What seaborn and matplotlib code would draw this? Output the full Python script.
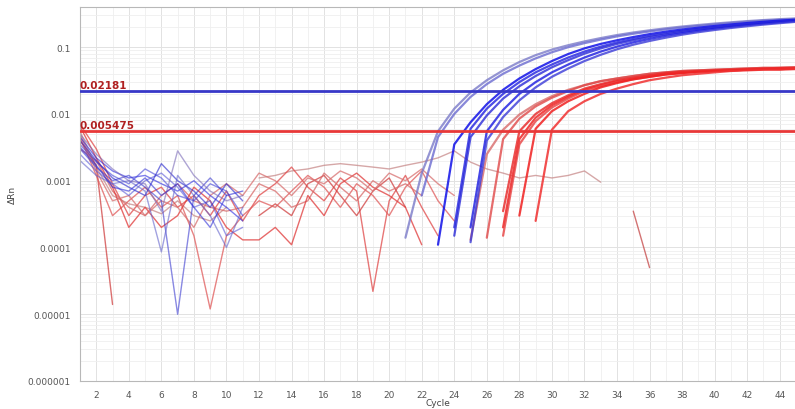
import numpy as np
import pandas as pd
import matplotlib
matplotlib.use("Agg")
import matplotlib.pyplot as plt
import seaborn as sns
from matplotlib.ticker import FixedLocator, FixedFormatter, NullFormatter

nan = float("nan")

# ---------------- data ----------------
x_ticks = list(range(2, 45, 2))
y_ticks = [1e-6, 1e-5, 1e-4, 1e-3, 1e-2, 1e-1]
y_tick_labels = ["0.000001", "0.00001", "0.0001", "0.001", "0.01", "0.1"]

threshold_blue = 0.02181
threshold_red = 0.005475
threshold_blue_label = "0.02181"
threshold_red_label = "0.005475"

# blue baseline noise, cycles 1..11
blue_noise_1 = [0.0045, 0.0022, 0.0014, 0.0011, 0.0012, 0.0009, 0.0007, 0.0010, 0.0006, 0.0004, 0.00025]
blue_noise_2 = [0.0035, 0.0019, 0.0012, 0.0009, 0.0015, 0.0011, 0.0006, 0.0005, 0.0009, 0.0007, 0.0003]
blue_noise_3 = [0.0030, 0.0016, 0.0010, 0.0012, 0.0008, 0.0005, 0.00001, 0.0006, 0.0011, 0.0006, nan]
blue_noise_4 = [0.0025, 0.0014, 0.0009, 0.0006, 0.0010, 0.0013, 0.0008, 0.0004, 0.0005, 0.00015, 0.0002]
blue_noise_5 = [0.0040, 0.0020, 0.0011, 0.0008, 0.0006, 0.0018, 0.0010, 0.0007, 0.0004, 0.0009, 0.0005]
blue_noise_6 = [0.0020, 0.0012, 0.0009, 0.0010, 0.0007, 0.000086, 0.0012, 0.0006, 0.0003, 0.0001, 0.0004]
blue_noise_7 = [0.0050, 0.0025, 0.0015, 0.0010, 0.0009, 0.00035, 0.0028, 0.0012, 0.0007, 0.0005, 0.0006]
blue_noise_8 = [0.0032, 0.0017, 0.0008, 0.0007, 0.0011, 0.0006, 0.0009, 0.0004, 0.0002, 0.0006, 0.0007]

# blue amplification curves: (first cycle, values up to cycle 45)
blue_amp_1_start = 21
blue_amp_1 = [0.00014, 0.0013, 0.0055, 0.012, 0.021, 0.032, 0.045, 0.060, 0.076, 0.092, 0.107, 0.122, 0.137,
              0.152, 0.166, 0.179, 0.192, 0.204, 0.215, 0.226, 0.236, 0.246, 0.255, 0.263, 0.270]
blue_amp_2_start = 22
blue_amp_2 = [0.0006, 0.0045, 0.010, 0.018, 0.028, 0.040, 0.053, 0.068, 0.084, 0.100, 0.115, 0.130,
              0.145, 0.159, 0.172, 0.185, 0.197, 0.208, 0.219, 0.230, 0.240, 0.249, 0.257, 0.265]
blue_amp_3_start = 23
blue_amp_3 = [0.00011, 0.0035, 0.0075, 0.014, 0.023, 0.034, 0.047, 0.062, 0.079, 0.096, 0.112, 0.127,
              0.142, 0.157, 0.171, 0.184, 0.196, 0.208, 0.219, 0.230, 0.240, 0.250, 0.258]
blue_amp_4_start = 24
blue_amp_4 = [0.0002, 0.006, 0.012, 0.020, 0.030, 0.042, 0.055, 0.070, 0.086, 0.102, 0.118, 0.133,
              0.148, 0.162, 0.176, 0.189, 0.201, 0.213, 0.224, 0.235, 0.245, 0.254]
blue_amp_5_start = 24
blue_amp_5 = [0.00015, 0.0045, 0.0095, 0.017, 0.026, 0.037, 0.050, 0.064, 0.080, 0.096, 0.112, 0.127,
              0.142, 0.156, 0.170, 0.183, 0.196, 0.208, 0.219, 0.230, 0.240, 0.250]
blue_amp_6_start = 25
blue_amp_6 = [0.0002, 0.0055, 0.0115, 0.020, 0.030, 0.042, 0.055, 0.070, 0.086, 0.102, 0.118, 0.133,
              0.148, 0.162, 0.176, 0.189, 0.202, 0.214, 0.225, 0.236, 0.246]
blue_amp_7_start = 25
blue_amp_7 = [0.00012, 0.004, 0.009, 0.016, 0.025, 0.036, 0.048, 0.062, 0.077, 0.093, 0.109, 0.124,
              0.139, 0.154, 0.168, 0.181, 0.194, 0.206, 0.218, 0.229, 0.240]

# red baseline noise, cycles 1..n
red_noise_1 = [0.0055, 0.0016, 0.0006, 0.00045, 0.0004, 0.00032, 0.0005, 0.0003, 0.00025, 0.0004, nan,
               0.0011, 0.0012, 0.0014, 0.0015, 0.0017, 0.0018, 0.0017, 0.0016, 0.0015, 0.0017, 0.0019,
               0.0022, 0.0028, 0.0019, 0.0015, 0.0013, 0.0011, 0.0012, 0.0011, 0.0012, 0.0014, 0.00095]
red_noise_2 = [0.007, 0.003, 0.0009, 0.0003, 0.0006, 0.0008, 0.0004, 0.0006, 0.0003, 0.0007, 0.00025,
               0.0006, 0.0009, 0.0016, 0.0008, 0.0005, 0.0011, 0.0007, 0.000022, 0.0005, 0.0012, 0.0004,
               0.00015]
red_noise_3 = [0.004, 0.0017, 0.000014, nan, nan, nan, nan, nan, nan, nan, nan,
               0.0003, 0.00045, 0.0003, 0.0009, 0.0012, 0.0006, 0.0003, 0.0007, 0.0011, 0.0004]
red_noise_4 = [0.0045, 0.0012, 0.0003, 0.0005, 0.0008, 0.0004, 0.0006, 0.00015, 0.000012, 0.00015, 0.0003,
               0.0005, 0.0004, 0.0007, 0.0012, 0.0008, 0.0004, 0.0009, 0.0006, 0.0003, 0.0008, 0.0014,
               0.0005, 0.00025]
red_noise_5 = [0.003, 0.002, 0.0007, 0.0004, 0.0003, 0.0006, 0.0009, 0.0005, 0.0004, 0.00035, 0.0004,
               0.0009, 0.0007, 0.0004, 0.0005, 0.0013, 0.0008, 0.0005, 0.0010, 0.0007, 0.0009, 0.0006]
red_noise_6 = [0.0065, 0.0022, 0.0008, 0.0002, 0.0004, 0.0002, 0.0003, 0.0008, 0.0005, 0.0002, 0.00013,
               0.00013, 0.0002, 0.00011, 0.0006, 0.0003, 0.0009, 0.0013, 0.0008, 0.0006, 0.0004, 0.00011]
red_noise_7 = [0.005, 0.0014, 0.0005, 0.0006, 0.0003, 0.0005, 0.0004, 0.0002, 0.0006, 0.0009, 0.0006,
               0.0013, 0.0010, 0.0006, 0.0011, 0.0009, 0.0014, 0.0011, 0.0007, 0.0013, 0.0010, 0.0015,
               0.0009, 0.0006]
red_noise_8_start = 35
red_noise_8 = [0.00035, 0.00005]

# red amplification curves
red_amp_1_start = 25
red_amp_1 = [0.00013, 0.0025, 0.0058, 0.0098, 0.014, 0.0185, 0.023, 0.027, 0.031, 0.034, 0.037, 0.040, 0.042,
             0.044, 0.045, 0.046, 0.047, 0.048, 0.049, 0.049, 0.050]
red_amp_2_start = 26
red_amp_2 = [0.00014, 0.0042, 0.0085, 0.013, 0.0175, 0.022, 0.027, 0.031, 0.034, 0.037, 0.040, 0.042,
             0.044, 0.045, 0.046, 0.047, 0.048, 0.049, 0.049, 0.050]
red_amp_3_start = 27
red_amp_3 = [0.00035, 0.0055, 0.0100, 0.0145, 0.019, 0.024, 0.028, 0.032, 0.035, 0.038, 0.041, 0.043,
             0.044, 0.045, 0.046, 0.047, 0.048, 0.049, 0.049]
red_amp_4_start = 27
red_amp_4 = [0.0002, 0.0042, 0.0088, 0.0135, 0.018, 0.023, 0.027, 0.031, 0.034, 0.037, 0.040, 0.042,
             0.043, 0.044, 0.045, 0.046, 0.047, 0.048, 0.048]
red_amp_5_start = 27
red_amp_5 = [0.00015, 0.0035, 0.0078, 0.0125, 0.017, 0.022, 0.026, 0.030, 0.033, 0.036, 0.039, 0.041,
             0.043, 0.044, 0.045, 0.046, 0.047, 0.047, 0.048]
red_amp_6_start = 28
red_amp_6 = [0.0003, 0.006, 0.011, 0.0155, 0.020, 0.025, 0.029, 0.033, 0.036, 0.039, 0.041, 0.043,
             0.044, 0.045, 0.046, 0.047, 0.047, 0.048]
red_amp_7_start = 29
red_amp_7 = [0.00025, 0.0058, 0.011, 0.0155, 0.020, 0.024, 0.028, 0.032, 0.035, 0.038, 0.040, 0.042,
             0.044, 0.045, 0.046, 0.046, 0.047]

# ---------------- plotting ----------------
sns.set_style("white")
plt.rcParams["font.family"] = ["DejaVu Sans"]

fig = plt.figure(figsize=(7.95, 4.10), dpi=100)
ax = fig.add_axes([80 / 795, 28 / 410, 716 / 795, 374 / 410])


def draw(start, values, color, alpha, lw):
    xs, ys = [], []
    segs = []
    for i, v in enumerate(values):
        if v is None or np.isnan(v) or v <= 0:
            if len(xs) > 1:
                segs.append((xs, ys))
            xs, ys = [], []
        else:
            xs.append(start + i)
            ys.append(v)
    if len(xs) > 1:
        segs.append((xs, ys))
    for sx, sy in segs:
        df = pd.DataFrame({"Cycle": sx, "dRn": sy})
        sns.lineplot(data=df, x="Cycle", y="dRn", ax=ax, color=color, alpha=alpha,
                     linewidth=lw, estimator=None, sort=False, legend=False)


blue_noise = [blue_noise_1, blue_noise_2, blue_noise_3, blue_noise_4,
              blue_noise_5, blue_noise_6, blue_noise_7, blue_noise_8]
blue_noise_colors = ["#2a2ae0", "#4444d8", "#3a3ad0", "#5a5ad8", "#2222cc", "#6464cc", "#7a6ab8", "#3030d8"]
red_noise = [red_noise_1, red_noise_2, red_noise_3, red_noise_4, red_noise_5, red_noise_6, red_noise_7]
red_noise_colors = ["#c88a8a", "#e04848", "#d04040", "#e05a5a", "#d86a6a", "#e03838", "#d87070"]

for vals, col in zip(red_noise, red_noise_colors):
    draw(1, vals, col, 0.75, 1.0)
draw(red_noise_8_start, red_noise_8, "#c85050", 0.8, 1.0)
for vals, col in zip(blue_noise, blue_noise_colors):
    draw(1, vals, col, 0.6, 1.0)

blue_amp = [(blue_amp_1_start, blue_amp_1, "#7a7ac8", 0.8),
            (blue_amp_2_start, blue_amp_2, "#6a6ad0", 0.8),
            (blue_amp_3_start, blue_amp_3, "#1010e8", 0.85),
            (blue_amp_4_start, blue_amp_4, "#2020e0", 0.8),
            (blue_amp_5_start, blue_amp_5, "#2a2ad8", 0.8),
            (blue_amp_6_start, blue_amp_6, "#1818e0", 0.8),
            (blue_amp_7_start, blue_amp_7, "#3a3ad8", 0.8)]
red_amp = [(red_amp_1_start, red_amp_1, "#d86a6a", 0.8),
           (red_amp_2_start, red_amp_2, "#e04848", 0.8),
           (red_amp_3_start, red_amp_3, "#e83030", 0.85),
           (red_amp_4_start, red_amp_4, "#f02828", 0.85),
           (red_amp_5_start, red_amp_5, "#e84040", 0.8),
           (red_amp_6_start, red_amp_6, "#f02020", 0.85),
           (red_amp_7_start, red_amp_7, "#f03030", 0.85)]
for s, vals, col, a in red_amp:
    draw(s, vals, col, a, 1.6)
for s, vals, col, a in blue_amp:
    draw(s, vals, col, a, 1.6)

# thresholds
ax.axhline(threshold_blue, color="#3838c8", linewidth=2.0, zorder=5)
ax.axhline(threshold_red, color="#e83838", linewidth=2.0, zorder=5)
ax.text(1.0, threshold_blue * 1.04, threshold_blue_label, color="#b02020", fontsize=7.5,
        fontweight="bold", ha="left", va="bottom", zorder=6)
ax.text(1.0, threshold_red * 1.04, threshold_red_label, color="#b02020", fontsize=7.5,
        fontweight="bold", ha="left", va="bottom", zorder=6)

ax.set_yscale("log")
ax.set_xlim(1, 45)
ax.set_ylim(1e-6, 0.4)

ax.yaxis.set_major_locator(FixedLocator(y_ticks))
ax.yaxis.set_major_formatter(FixedFormatter(y_tick_labels))
ax.yaxis.set_minor_formatter(NullFormatter())
ax.set_xticks(x_ticks)
ax.set_xticklabels([str(t) for t in x_ticks])
ax.set_xticks(range(1, 46), minor=True)

ax.grid(True, which="major", axis="both", color="#e2e2e2", linewidth=0.7)
ax.grid(True, which="minor", axis="both", color="#efefef", linewidth=0.6)
ax.set_axisbelow(True)

ax.tick_params(axis="both", which="major", labelsize=6.5, labelcolor="#555555", color="#aaaaaa",
               length=3, width=0.6)
ax.tick_params(axis="both", which="minor", length=0)
for side in ["left", "bottom", "top"]:
    ax.spines[side].set_color("#b8b8b8")
    ax.spines[side].set_linewidth(0.8)
ax.spines["right"].set_visible(False)

ax.set_xlabel("Cycle", fontsize=6.5, color="#444444")
ax.xaxis.set_label_coords(0.5, -0.046)
ax.set_ylabel("ΔRn", fontsize=6.5, color="#444444")
ax.yaxis.set_label_coords(-0.088, 0.5)

fig.savefig("out.png", dpi=100)
